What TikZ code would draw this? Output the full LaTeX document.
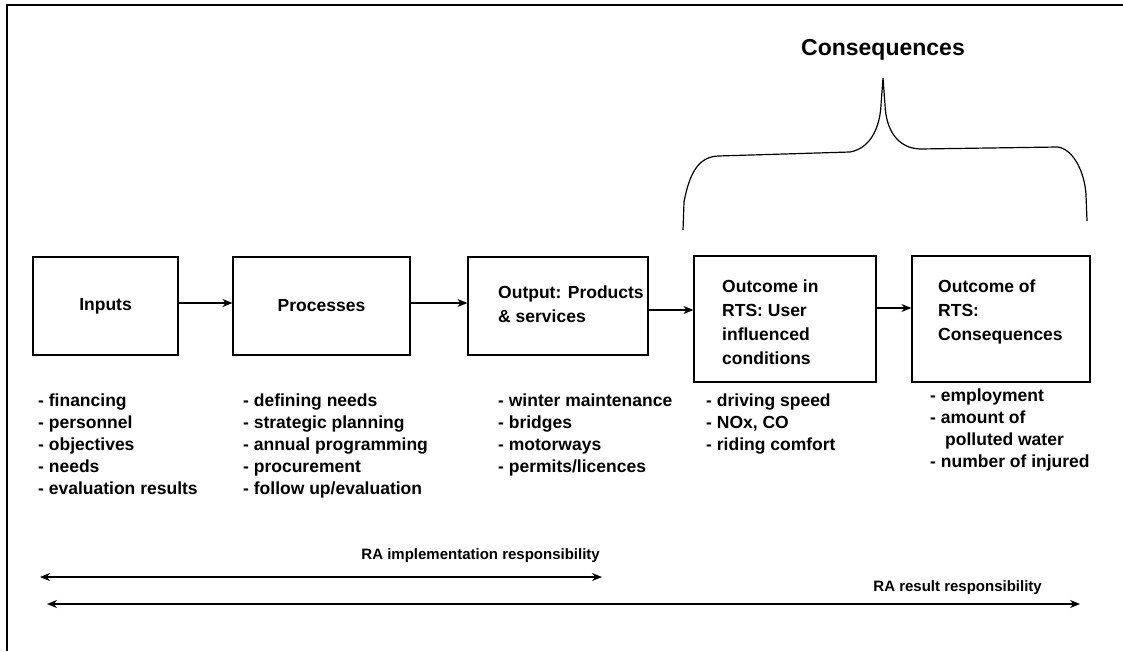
\documentclass[tikz,border=0pt]{standalone}
\usepackage{fontspec}
\setmainfont{Liberation Sans}
\usetikzlibrary{arrows.meta,positioning}

\begin{document}
\begin{tikzpicture}[x=1pt, y=-1pt,
  box_style/.style={draw=black, line width=1.2pt, minimum height=98, inner sep=0pt, font=\fontsize{17.5}{24}\selectfont\bfseries},
  text_style/.style={inner sep=0pt, align=left, anchor=west, font=\fontsize{17.5}{24}\selectfont\bfseries},
  list_style/.style={inner sep=0pt, align=left, anchor=north west, font=\fontsize{17.5}{22}\selectfont\bfseries},
  note_style/.style={inner sep=0pt, anchor=base east, font=\fontsize{15}{18}\selectfont\bfseries},
  edge_style/.style={draw=black, line width=1.2pt, -{Stealth[length=10pt,width=8pt]}},
  span_style/.style={draw=black, line width=1.2pt, {Stealth[length=10pt,width=8pt]}-{Stealth[length=10pt,width=8pt]}}]
  \useasboundingbox (0,0) rectangle (1123,651);
  % frame
  \draw[line width=2pt] (7,651) -- (7,5) -- (1123,5);
  % boxes
  \draw
    (105.5,306) node[box_style, minimum width=145] (inputs){Inputs}
    (321.5,306) node[box_style, minimum width=177] (processes){Processes}
    (558,306) node[box_style, minimum width=180] (output){}
    (785,319) node[box_style, minimum width=182, minimum height=126] (outcomein){}
    (1001,319) node[box_style, minimum width=178, minimum height=126] (outcomeof){};
  \node[text_style] (outputtext) at (498,304) {Output: Products\\\& services};
  \node[text_style] (outcomeintext) at (722,322) {Outcome in\\RTS: User\\influenced\\conditions};
  \node[text_style] (outcomeoftext) at (938,312) {Outcome of\\RTS:\\Consequences};
  % flow
  \draw[edge_style] ([yshift=3]inputs.east) -- ([yshift=3]inputs.east -| processes.west);
  \draw[edge_style] ([yshift=3]processes.east) -- ([yshift=3]processes.east -| output.west);
  \draw[edge_style] ([yshift=-4]output.east) -- ([yshift=-4]output.east -| outcomein.west);
  \draw[edge_style] ([yshift=11]outcomein.east) -- ([yshift=11]outcomein.east -| outcomeof.west);
  % lists
  \draw
    (38,394) node[list_style] (inputslist){- financing\\- personnel\\- objectives\\- needs\\- evaluation results}
    (243,394) node[list_style] (processeslist){- defining needs\\- strategic planning\\- annual programming\\- procurement\\- follow up/evaluation}
    (498,394) node[list_style] (outputlist){- winter maintenance\\- bridges\\- motorways\\- permits/licences}
    (706,394) node[list_style] (outcomeinlist){- driving speed\\- NOx, CO\\- riding comfort}
    (930,389) node[list_style] (outcomeoflist){- employment\\- amount of\\\hspace*{15pt}polluted water\\- number of injured};
  % consequences brace
  \node[inner sep=0pt, font=\fontsize{23}{28}\selectfont\bfseries] (title) at (883,50) {Consequences};
  \draw[line width=1.2pt] (683,230) -- (684,202) .. controls (690,170) and (700,157) .. (718,156)
    -- (850,152) .. controls (872,148) and (880,125) .. (881,105) -- (883,78)
    -- (885,105) .. controls (886,128) and (896,148) .. (920,149)
    -- (1058,147) .. controls (1075,150) and (1085,175) .. (1086,195) -- (1087,221);
  % responsibilities
  \coordinate (implstart) at (40,577);
  \coordinate (implend) at (602,577);
  \coordinate (resstart) at (47,604);
  \coordinate (resend) at (1080,604);
  \draw[span_style] (implstart) -- (implend);
  \draw[span_style] (resstart) -- (resend);
  \node[note_style] (impllabel) at (600,559) {RA implementation responsibility};
  \node[note_style] (reslabel) at (1042,591) {RA result responsibility};
\end{tikzpicture}
\end{document}
